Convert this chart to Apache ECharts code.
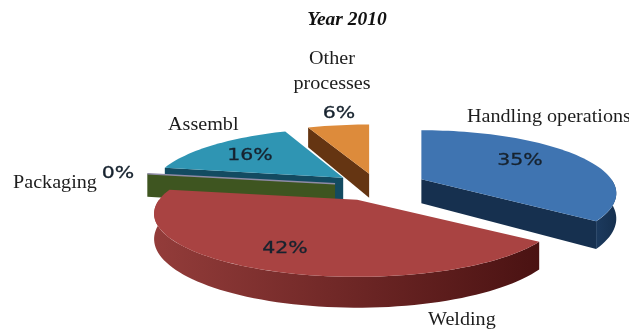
<!DOCTYPE html>
<html>
<head>
<meta charset="utf-8">
<title>Year 2010</title>
<style>
html,body{margin:0;padding:0;background:#fff}
#chart{width:629px;height:329px}
</style>
<script src="https://cdn.jsdelivr.net/npm/echarts@6/dist/echarts.min.js"></script>
</head>
<body>
<div id="chart"></div>
<script>
// Process shares for 2010
const categories = ['Handling operations', 'Welding', 'Packaging', 'Assembl', 'Other\nprocesses'];
const shares = [35, 42, 0, 16, 6];

// Pie geometry: a tilted disc seen in perspective
const pieCenter = [377, 186];
const radiusX = 198, radiusY = 60, perspective = 0.222, wallDepth = 24;
const firstAngle = -90;
const explode = [0.25, 0.25, 0.215, 0.22, 0.21];
const widthScale = [0.96, 1, 1, 0.95, 1];
const paintOrder = [4, 5, 3, 2, 1];

const topColors = ['#3f74b1', '#a94342', '#8f8ba6', '#2f95b3', '#dd8b3b'];
const wallColors = [['#1c3a5e', '#16304f'], ['#933c3a', '#4a1212'], ['#3e5520', '#3e5520'], ['#134b61', '#134b61'], ['#75431a', '#653512']];

// Label anchors
const valueAnchors = [[520, 161], [285, 249], [118, 174], [250, 156], [339, 114]];
const nameAnchors = [[467, 117], [428, 320], [13, 183], [168, 125], [332, 72]];
const nameAligns = ['left', 'left', 'left', 'left', 'center'];

const total = shares.reduce((a, b) => a + b, 0);
const rad = d => d * Math.PI / 180;

function sliceSpan(index) {
  let start = firstAngle;
  for (let i = 0; i < index; i++) start += shares[i] / total * 360;
  return [start, start + shares[index] / total * 360];
}

// Projects a polar point of one slice onto the page, apex-relative, with a drop for the wall bottom
function project(apex, angle, r, drop, xScale) {
  const u = r * Math.cos(rad(angle)), v = r * Math.sin(rad(angle));
  const d = 1 - perspective * v;
  return [apex[0] + xScale * radiusX * u / d, apex[1] + radiusY * v / d + drop / d];
}

function arcPoints(apex, a0, a1, drop, xScale) {
  const pts = [], n = Math.max(1, Math.ceil(Math.abs(a1 - a0) / 2));
  for (let i = 0; i <= n; i++) pts.push(project(apex, a0 + (a1 - a0) * i / n, 1, drop, xScale));
  return pts;
}

function renderSlice(params, api) {
  const i = params.dataIndex;
  const value = api.value(0);
  const [a0, a1] = sliceSpan(i);
  const mid = rad((a0 + a1) / 2);
  const apex = [
    pieCenter[0] + radiusX * explode[i] * Math.cos(mid),
    pieCenter[1] + radiusY * explode[i] * Math.sin(mid)
  ];
  const xs = widthScale[i];
  const z2 = paintOrder[i] * 10;
  const children = [];
  const wallFill = new echarts.graphic.LinearGradient(0, 0, 1, 0, [
    { offset: 0, color: wallColors[i][0] },
    { offset: 1, color: wallColors[i][1] }
  ]);
  const quad = (angle) => {
    const outer = project(apex, angle, 1, 0, xs), outerLow = project(apex, angle, 1, wallDepth, xs);
    children.push({
      type: 'polygon', z2,
      shape: { points: [apex, outer, outerLow, [apex[0], apex[1] + wallDepth]] },
      style: { fill: wallColors[i][1] }
    });
  };
  if (Math.cos(rad(a0)) < 0) quad(a0);
  if (Math.cos(rad(a1)) > 0) quad(a1);

  // Curved outer wall: only the part of the rim that faces the viewer
  [[0, 180], [360, 540]].forEach(([lo, hi]) => {
    const s = Math.max(a0, lo), e = Math.min(a1, hi);
    if (e > s) {
      const topEdge = arcPoints(apex, s, e, 0, xs);
      const lowEdge = arcPoints(apex, s, e, wallDepth, xs).reverse();
      children.push({
        type: 'polygon', z2,
        shape: { points: topEdge.concat(lowEdge) },
        style: { fill: wallFill }
      });
    }
  });

  // Top face; a zero share collapses to a hairline along its radius
  const face = [apex].concat(arcPoints(apex, a0, a1, 0, xs));
  if (a1 > a0) {
    children.push({
      type: 'polygon', z2: z2 + 1,
      shape: { points: face },
      style: { fill: topColors[i] }
    });
  } else {
    children.push({
      type: 'line', z2: z2 + 1,
      shape: { x1: apex[0], y1: apex[1], x2: face[1][0], y2: face[1][1] },
      style: { stroke: topColors[i], lineWidth: 1.5 }
    });
  }

  // Percentage, drawn in a wide sans
  children.push({
    type: 'text', z2: 100,
    x: valueAnchors[i][0], y: valueAnchors[i][1], scaleX: 1.32,
    style: {
      text: value + '%', x: 0, y: 0, align: 'center', verticalAlign: 'middle',
      font: '15.5px "DejaVu Sans"', fill: '#16222e', stroke: '#16222e', lineWidth: 0.3
    }
  });

  // Category name
  children.push({
    type: 'text', z2: 100,
    x: nameAnchors[i][0], y: nameAnchors[i][1], scaleX: 1.06,
    style: {
      text: categories[i], x: 0, y: 0,
      align: nameAligns[i], verticalAlign: 'middle',
      font: '19px "Liberation Serif"', fill: '#1d1d1d', lineHeight: 25
    }
  });
  return { type: 'group', children };
}

const chart = echarts.init(document.getElementById('chart'), null, { renderer: 'canvas' });
chart.setOption({
  animation: false,
  backgroundColor: '#ffffff',
  title: {
    text: 'Year 2010',
    left: 342, top: 5, textAlign: 'center',
    textStyle: { fontFamily: 'Liberation Serif', fontStyle: 'italic', fontWeight: 'bold', fontSize: 19.5, color: '#111' }
  },
  series: [{
    type: 'custom',
    coordinateSystem: 'none',
    renderItem: renderSlice,
    data: shares.map((v, i) => ({ value: [v], name: categories[i] }))
  }]
});
</script>
</body>
</html>
